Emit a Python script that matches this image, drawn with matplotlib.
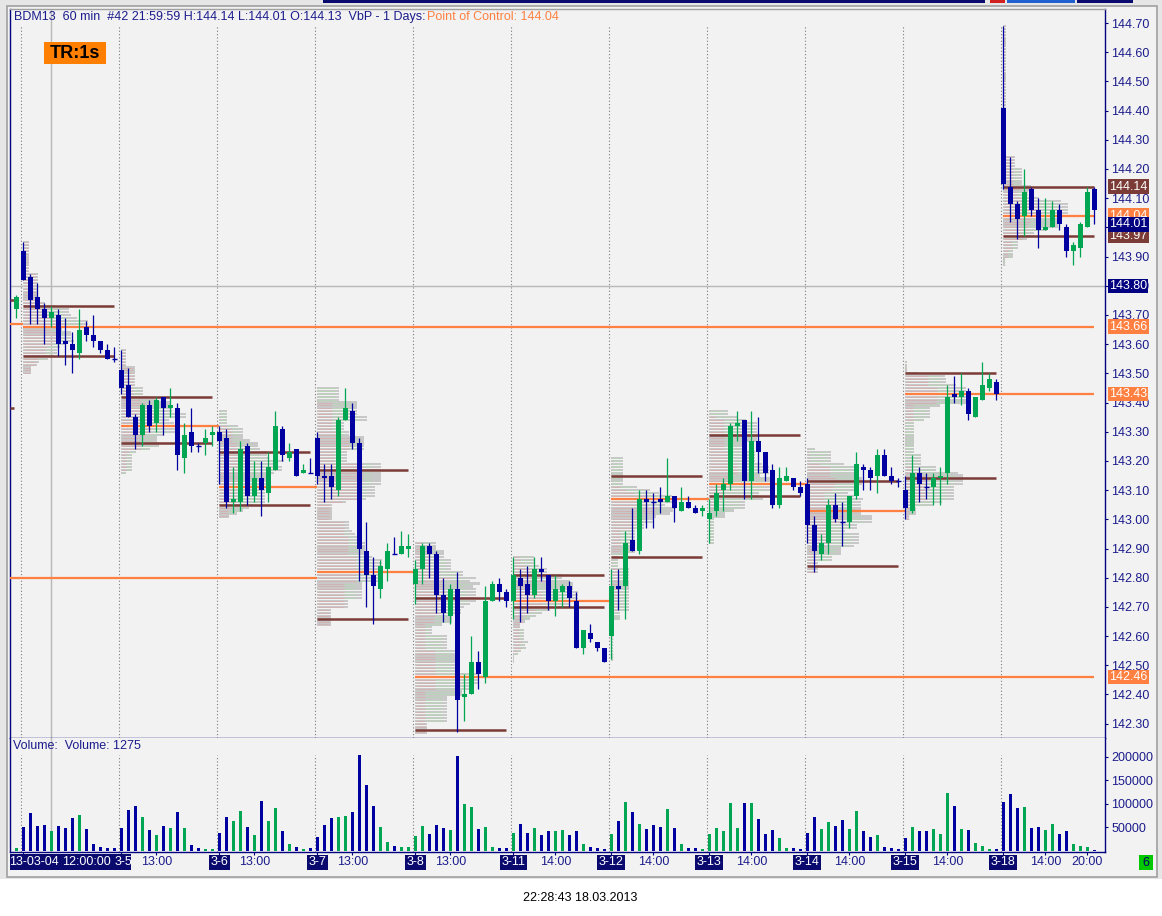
import numpy as np
import matplotlib.pyplot as plt
import matplotlib.transforms as mtransforms
from matplotlib.patches import Rectangle

plt.rcParams['font.family'] = ['Liberation Sans', 'DejaVu Sans']

# ---- data (hourly bars, BDM13) ----
days = ['3-4', '3-5', '3-6', '3-7', '3-8', '3-11', '3-12', '3-13', '3-14', '3-15', '3-18']
hour_label = ['13:00', '13:00', '13:00', '13:00', '13:00',
              '14:00', '14:00', '14:00', '14:00', '14:00', '14:00']
bars_per_day = 14

# first value = last bar of the previous session, then 14 bars per day
opens = [143.72,
    143.92, 143.83, 143.76, 143.72, 143.69, 143.70, 143.61, 143.60, 143.57, 143.66, 143.63, 143.61, 143.58, 143.55,
    143.51, 143.46, 143.35, 143.29, 143.39, 143.33, 143.42, 143.38, 143.38, 143.21, 143.30, 143.25, 143.26, 143.29,
    143.30, 143.28, 143.06, 143.06, 143.25, 143.08, 143.14, 143.09, 143.17, 143.31, 143.21, 143.24, 143.16, 143.16,
    143.28, 143.15, 143.15, 143.10, 143.34, 143.37, 143.26, 142.89, 142.81, 142.76, 142.83, 142.88, 142.88, 142.90,
    142.78, 142.83, 142.91, 142.88, 142.74, 142.67, 142.76, 142.39, 142.40, 142.51, 142.46, 142.72, 142.78, 142.75,
    142.72, 142.80, 142.78, 142.74, 142.83, 142.81, 142.72, 142.75, 142.77, 142.72, 142.56, 142.61, 142.58, 142.56,
    142.60, 142.77, 142.77, 142.93, 142.89, 143.07, 143.06, 143.07, 143.06, 143.08, 143.03, 143.06, 143.04, 143.03,
    143.00, 143.03, 143.10, 143.12, 143.32, 143.34, 143.13, 143.27, 143.23, 143.17, 143.05, 143.13, 143.14, 143.11,
    143.12, 142.98, 142.88, 142.92, 143.05, 142.99, 142.99, 143.08, 143.18, 143.17, 143.15, 143.22, 143.15, 143.13,
    143.10, 143.03, 143.16, 143.11, 143.11, 143.14, 143.16, 143.43, 143.42, 143.44, 143.35, 143.41, 143.45, 143.47,
    144.41, 144.14, 144.08, 144.04, 144.13, 144.06, 143.99, 144.00, 144.06, 144.00, 143.92, 143.93, 144.00, 144.13]
highs = [143.77,
    143.95, 143.84, 143.81, 143.74, 143.73, 143.72, 143.69, 143.64, 143.72, 143.68, 143.70, 143.61, 143.60, 143.59,
    143.58, 143.52, 143.36, 143.40, 143.41, 143.42, 143.42, 143.45, 143.40, 143.33, 143.38, 143.26, 143.31, 143.32,
    143.32, 143.31, 143.18, 143.27, 143.26, 143.20, 143.20, 143.23, 143.37, 143.32, 143.26, 143.24, 143.19, 143.21,
    143.30, 143.19, 143.19, 143.35, 143.45, 143.40, 143.28, 142.99, 142.87, 142.86, 142.92, 142.94, 142.96, 142.95,
    142.86, 142.92, 142.92, 142.89, 142.80, 142.78, 142.82, 142.47, 142.60, 142.55, 142.77, 142.79, 142.80, 142.76,
    142.87, 142.83, 142.84, 142.87, 142.87, 142.81, 142.81, 142.78, 142.79, 142.75, 142.62, 142.64, 142.58, 142.56,
    142.83, 142.83, 142.96, 143.04, 143.10, 143.10, 143.09, 143.11, 143.21, 143.08, 143.11, 143.08, 143.05, 143.05,
    143.07, 143.12, 143.14, 143.33, 143.37, 143.34, 143.37, 143.35, 143.23, 143.19, 143.18, 143.18, 143.14, 143.13,
    143.14, 143.01, 142.95, 143.07, 143.09, 143.06, 143.08, 143.23, 143.19, 143.18, 143.24, 143.24, 143.18, 143.14,
    143.15, 143.22, 143.18, 143.16, 143.16, 143.18, 143.46, 143.49, 143.50, 143.45, 143.42, 143.54, 143.50, 143.48,
    144.69, 144.24, 144.09, 144.20, 144.14, 144.10, 144.10, 144.09, 144.08, 144.01, 143.95, 144.02, 144.14, 144.14]
lows = [143.69,
    143.82, 143.67, 143.67, 143.60, 143.66, 143.56, 143.53, 143.50, 143.55, 143.61, 143.59, 143.57, 143.55, 143.54,
    143.43, 143.35, 143.24, 143.25, 143.30, 143.30, 143.29, 143.35, 143.17, 143.16, 143.23, 143.23, 143.22, 143.25,
    143.12, 143.04, 143.02, 143.03, 143.05, 143.06, 143.01, 143.06, 143.17, 143.20, 143.20, 143.15, 143.16, 143.16,
    143.12, 143.06, 143.07, 143.08, 143.34, 143.24, 142.79, 142.70, 142.64, 142.73, 142.79, 142.88, 142.88, 142.87,
    142.71, 142.78, 142.80, 142.68, 142.65, 142.64, 142.27, 142.31, 142.40, 142.42, 142.44, 142.72, 142.72, 142.70,
    142.66, 142.65, 142.68, 142.73, 142.79, 142.69, 142.67, 142.70, 142.70, 142.56, 142.54, 142.58, 142.55, 142.51,
    142.52, 142.69, 142.66, 142.89, 142.88, 142.97, 142.97, 143.02, 143.06, 142.99, 143.03, 143.04, 143.02, 143.01,
    142.92, 143.01, 143.03, 143.10, 143.27, 143.07, 143.07, 143.16, 143.13, 143.04, 143.04, 143.13, 143.10, 143.08,
    142.92, 142.82, 142.86, 142.88, 142.99, 142.91, 142.97, 143.07, 143.10, 143.10, 143.09, 143.15, 143.12, 143.11,
    143.00, 143.02, 143.06, 143.07, 143.05, 143.05, 143.12, 143.40, 143.39, 143.34, 143.35, 143.41, 143.44, 143.41,
    144.13, 144.02, 143.96, 143.97, 144.04, 143.93, 143.99, 144.00, 143.99, 143.90, 143.87, 143.90, 144.00, 144.01]
closes = [143.76,
    143.82, 143.75, 143.72, 143.69, 143.71, 143.60, 143.60, 143.58, 143.65, 143.63, 143.61, 143.58, 143.55, 143.55,
    143.45, 143.35, 143.29, 143.39, 143.32, 143.41, 143.38, 143.39, 143.22, 143.29, 143.25, 143.25, 143.28, 143.30,
    143.27, 143.06, 143.07, 143.24, 143.08, 143.14, 143.10, 143.18, 143.32, 143.22, 143.23, 143.15, 143.17, 143.16,
    143.15, 143.14, 143.11, 143.34, 143.38, 143.26, 142.90, 142.81, 142.77, 142.84, 142.89, 142.88, 142.91, 142.91,
    142.83, 142.91, 142.88, 142.74, 142.68, 142.76, 142.38, 142.40, 142.51, 142.47, 142.72, 142.78, 142.75, 142.72,
    142.81, 142.77, 142.74, 142.83, 142.82, 142.72, 142.76, 142.77, 142.73, 142.56, 142.62, 142.59, 142.56, 142.51,
    142.77, 142.76, 142.92, 142.89, 143.07, 143.06, 143.06, 143.06, 143.08, 143.04, 143.06, 143.04, 143.02, 143.04,
    143.02, 143.09, 143.12, 143.32, 143.33, 143.13, 143.27, 143.23, 143.16, 143.05, 143.14, 143.15, 143.11, 143.09,
    142.98, 142.89, 142.92, 143.05, 143.00, 142.99, 143.08, 143.19, 143.17, 143.14, 143.22, 143.15, 143.13, 143.13,
    143.04, 143.16, 143.12, 143.11, 143.14, 143.15, 143.42, 143.42, 143.44, 143.36, 143.42, 143.46, 143.48, 143.43,
    144.15, 144.08, 144.03, 144.12, 144.06, 143.99, 144.00, 144.06, 144.01, 143.92, 143.94, 144.01, 144.12, 144.06]
volumes = [5600,
    50000, 79600, 54000, 56000, 42000, 54000, 48000, 69000, 77000, 46000, 14000, 7700, 5600, 5600,
    48000, 86000, 96000, 71000, 44000, 33000, 54000, 48000, 82000, 48000, 12000, 5600, 3500, 3500,
    39000, 73000, 63000, 84000, 50000, 33000, 107000, 63000, 92000, 42000, 14000, 7700, 3500, 5600,
    29000, 56000, 69000, 73000, 75000, 82000, 204000, 141000, 96000, 50000, 20000, 9900, 7700, 7700,
    31000, 52000, 35000, 56000, 48000, 44000, 202000, 99000, 94000, 46000, 50000, 7700, 5600, 5600,
    39000, 58000, 39000, 48000, 33000, 42000, 42000, 44000, 33000, 42000, 14000, 7700, 5600, 3500,
    35000, 63000, 103000, 82000, 58000, 46000, 56000, 50000, 88000, 48000, 14000, 5600, 5600, 3500,
    35000, 48000, 42000, 101000, 48000, 101000, 101000, 67000, 37000, 44000, 27000, 5600, 5600, 3500,
    39000, 71000, 46000, 61000, 52000, 65000, 46000, 84000, 42000, 29000, 33000, 7700, 5600, 3500,
    27000, 50000, 42000, 42000, 46000, 35000, 122000, 96000, 46000, 44000, 16000, 9900, 3500, 3500,
    103000, 120000, 92000, 94000, 48000, 50000, 44000, 58000, 37000, 42000, 14000, 9900, 7700, 1275]

# volume-by-price levels per day
poc = [143.66, 143.32, 143.11, 142.82, 142.46, 142.72, 143.07, 143.12, 143.03, 143.43, 144.04]
vah = [143.73, 143.42, 143.23, 143.17, 142.73, 142.81, 143.15, 143.29, 143.13, 143.50, 144.14]
val = [143.56, 143.26, 143.05, 142.66, 142.28, 142.70, 142.87, 143.08, 142.84, 143.14, 143.97]
prev_poc = [143.67, 142.80]
prev_va = [143.75, 143.38]
last_price = 144.01
cursor_price = 143.80
cursor_bar = 5

BLUE = '#0000a0'
GREEN = '#00a651'
ORANGE = '#ff8040'
BROWN = '#7b3b36'
NAVY = '#1c1c8c'
BG = '#f2f2f2'

W, H = 1162, 916
fx = lambda px: px / W
fy = lambda py: 1 - py / H

o = np.array(opens); h = np.array(highs); l = np.array(lows); c = np.array(closes)
v = np.array(volumes, dtype=float)
x = np.arange(len(o))
cols = np.where(c > o, GREEN, BLUE)
starts = [1 + bars_per_day * d for d in range(len(days))]
last = len(o) - 1

fig = plt.figure(figsize=(W / 100, H / 100), dpi=100)
fig.patch.set_facecolor('white')
# window frame
fig.patches.append(Rectangle((0, fy(879)), 1, 879 / H, transform=fig.transFigure,
                             fc='#e6e6e6', ec='none', zorder=-10))
fig.patches.append(Rectangle((fx(7), fy(877)), fx(1150), (877 - 6) / H, transform=fig.transFigure,
                             fc=BG, ec='#a0a0a0', lw=1.2, zorder=-9))
for x0, x1, cc in [(323, 985, '#0a0a6e'), (990, 1005, '#d02020'), (1007, 1075, '#2060d0'),
                   (1077, 1133, '#0a0a6e')]:
    fig.patches.append(Rectangle((fx(x0), fy(3)), fx(x1 - x0), 3 / H, transform=fig.transFigure,
                                 fc=cc, ec='none'))

ax = fig.add_axes([fx(9.5), fy(738), (1105 - 9.5) / W, (738 - 9) / H])
axv = fig.add_axes([fx(9.5), fy(852), (1105 - 9.5) / W, (852 - 738) / H])
xlim = (-0.971, 155.53)
for a in (ax, axv):
    a.set_facecolor(BG)
    a.set_xlim(*xlim)
    for s in a.spines.values():
        s.set_color('#000080')
        s.set_linewidth(1.0)
    a.yaxis.tick_right()
    a.tick_params(axis='y', colors='#000080', labelcolor=NAVY, labelsize=9, length=2.5, pad=2)
ax.spines['top'].set_color('#a0a0a0')
axv.spines['top'].set_visible(False)
ax.set_ylim(142.251, 144.748)
axv.set_ylim(-2300, 239900)
ax.set_xticks([])

yt = np.round(np.arange(142.3, 144.71, 0.1), 2)
ax.set_yticks(yt)
ax.set_yticklabels(['%.2f' % t for t in yt])
vt = [50000, 100000, 150000, 200000]
axv.set_yticks(vt)
axv.set_yticklabels([str(t) for t in vt])

# day separators and cursor
for s in starts:
    ax.axvline(s - 0.37, ymax=0.978, color='#7a7a7a', ls=(0, (1, 2)), lw=0.8, zorder=0.5)
    axv.axvline(s - 0.37, ymax=0.85, color='#7a7a7a', ls=(0, (1, 2)), lw=0.8, zorder=0.5)
ax.axhline(cursor_price, color='#b8b8b8', lw=1, zorder=0.6)
ax.axvline(cursor_bar - 0.04, color='#b8b8b8', lw=1, zorder=0.6)
axv.axvline(cursor_bar - 0.04, color='#b8b8b8', lw=1, zorder=0.6)

# volume-by-price profile per day (bar volume spread evenly over its range)
for s in starts:
    idx = range(s, s + bars_per_day)
    lo = int(round(min(l[i] for i in idx) * 100))
    hi = int(round(max(h[i] for i in idx) * 100))
    dn = np.zeros(hi - lo + 1)
    up = np.zeros(hi - lo + 1)
    for i in idx:
        a0 = int(round(l[i] * 100)) - lo
        b0 = int(round(h[i] * 100)) - lo
        share = v[i] / (b0 - a0 + 1)
        if c[i] > o[i]:
            up[a0:b0 + 1] += share
        else:
            dn[a0:b0 + 1] += share
    lev = np.arange(lo, hi + 1) / 100.0
    scale = 9.3 / (dn + up).max()
    left = s - 0.1
    tot = (dn + up) * scale
    ax.barh(lev, tot, left=left, height=0.0075, color='#c8c8c8', lw=0, zorder=1)
    ax.hlines(lev, left + 0.15, left + dn * scale * 0.85, colors='#d6aaaa', lw=0.5, zorder=1.2)
    ax.hlines(lev, left + dn * scale * 0.85, left + tot * 0.85, colors='#b2d8b2', lw=0.5, zorder=1.2)


def touched_at(level, first_day):
    for d in range(first_day, len(days)):
        s = starts[d]
        if l[s:s + bars_per_day].min() <= level <= h[s:s + bars_per_day].max():
            return s
    return last


for d, s in enumerate(starts):
    ax.hlines(poc[d], s, touched_at(poc[d], d + 1), colors=ORANGE, lw=1.6, zorder=3)
    ax.hlines([vah[d], val[d]], s, s + bars_per_day - 1, colors=BROWN, lw=1.8, zorder=3)
for p in prev_poc:
    ax.hlines(p, xlim[0], touched_at(p, 0), colors=ORANGE, lw=1.6, zorder=3)
ax.hlines(prev_va, xlim[0], -0.35, colors=BROWN, lw=1.8, zorder=3)

# candles
ax.vlines(x, l, h, colors=cols, lw=0.9, zorder=4)
body = np.abs(c - o)
ax.bar(x, body, bottom=np.minimum(o, c), width=0.74, color=cols, lw=0, zorder=5)
doji = body < 0.005
ax.hlines(o[doji], x[doji] - 0.37, x[doji] + 0.37, colors=cols[doji], lw=1.0, zorder=5)

# volume
axv.bar(x, v, width=0.45, color=cols, lw=0, zorder=3)

# right-side price boxes
tr = mtransforms.blended_transform_factory(fig.transFigure, ax.transData)


def pbox(price, fc, z=6):
    ax.text(fx(1109), price, '%.2f' % price, transform=tr, ha='left', va='center',
            fontsize=9, color='white', zorder=z,
            bbox=dict(boxstyle='square,pad=0.1', fc=fc, ec='none'))


pbox(vah[-1], BROWN)
pbox(poc[-1], ORANGE)
pbox(val[-1], BROWN)
pbox(last_price, '#000080', z=7)
pbox(cursor_price, '#000080')
for d, p in enumerate(poc[:-1]):
    if touched_at(p, d + 1) == last:
        pbox(p, ORANGE)

# x-axis labels
tx = mtransforms.blended_transform_factory(axv.transData, fig.transFigure)
ly = fy(862)
tick_pos = []
fig.patches.append(Rectangle((fx(9.5), fy(870)), fx(121), 16 / H, transform=fig.transFigure,
                             fc='#0a0a6e', ec='none', zorder=5))
fig.text(fx(9), ly, '13-03-04', color='white', fontsize=9, va='center', zorder=6)
fig.text(fx(62), ly, '12:00:00', color='white', fontsize=9, va='center', zorder=6)
fig.text(fx(123), ly, days[1], color='white', fontsize=9, va='center', ha='center', zorder=6)
for d, s in enumerate(starts):
    tick_pos.append(s)
    if d >= 2:
        axv.text(s, ly, days[d], transform=tx, ha='center', va='center', color='white', fontsize=9,
                 bbox=dict(boxstyle='square,pad=0.12', fc='#0a0a6e', ec='none'))
    if d >= 1:
        off = 5 if hour_label[d] == '13:00' else 6
        axv.text(s + off, ly, hour_label[d], transform=tx, ha='center', va='center',
                 color=NAVY, fontsize=9)
        tick_pos.append(s + off)
axv.text(last - 1, ly, '20:00', transform=tx, ha='center', va='center', color=NAVY, fontsize=9)
tick_pos.append(last - 1)
axv.set_xticks(tick_pos)
axv.set_xticklabels([])
axv.tick_params(axis='x', colors='#000080', length=2.5)

# header texts
fig.text(fx(14), fy(17), 'BDM13  60 min  #42 21:59:59 H:144.14 L:144.01 O:144.13  VbP - 1 Days:',
         color=NAVY, fontsize=9, va='center')
fig.text(fx(427), fy(17), 'Point of Control: %.2f' % poc[-1], color=ORANGE, fontsize=9, va='center')
fig.patches.append(Rectangle((fx(44), fy(64)), fx(62), 22 / H, transform=fig.transFigure,
                             fc='#ff7f00', ec='none', zorder=5))
fig.text(fx(75), fy(53), 'TR:1s', color='black', fontsize=13, fontweight='bold',
         ha='center', va='center', zorder=6)
fig.text(fx(13), fy(746), 'Volume:  Volume: %d' % volumes[-1], color=NAVY, fontsize=9, va='center')
fig.patches.append(Rectangle((fx(1139), fy(870)), fx(14), 15 / H, transform=fig.transFigure,
                             fc='#00c800', ec='none', zorder=5))
fig.text(fx(1146), fy(862.5), '6', color='#000060', fontsize=9, ha='center', va='center', zorder=6)
fig.text(fx(580), fy(898), '22:28:43 18.03.2013', color='black', fontsize=9, ha='center', va='center')

fig.savefig('out.png', dpi=100, facecolor=fig.get_facecolor())
